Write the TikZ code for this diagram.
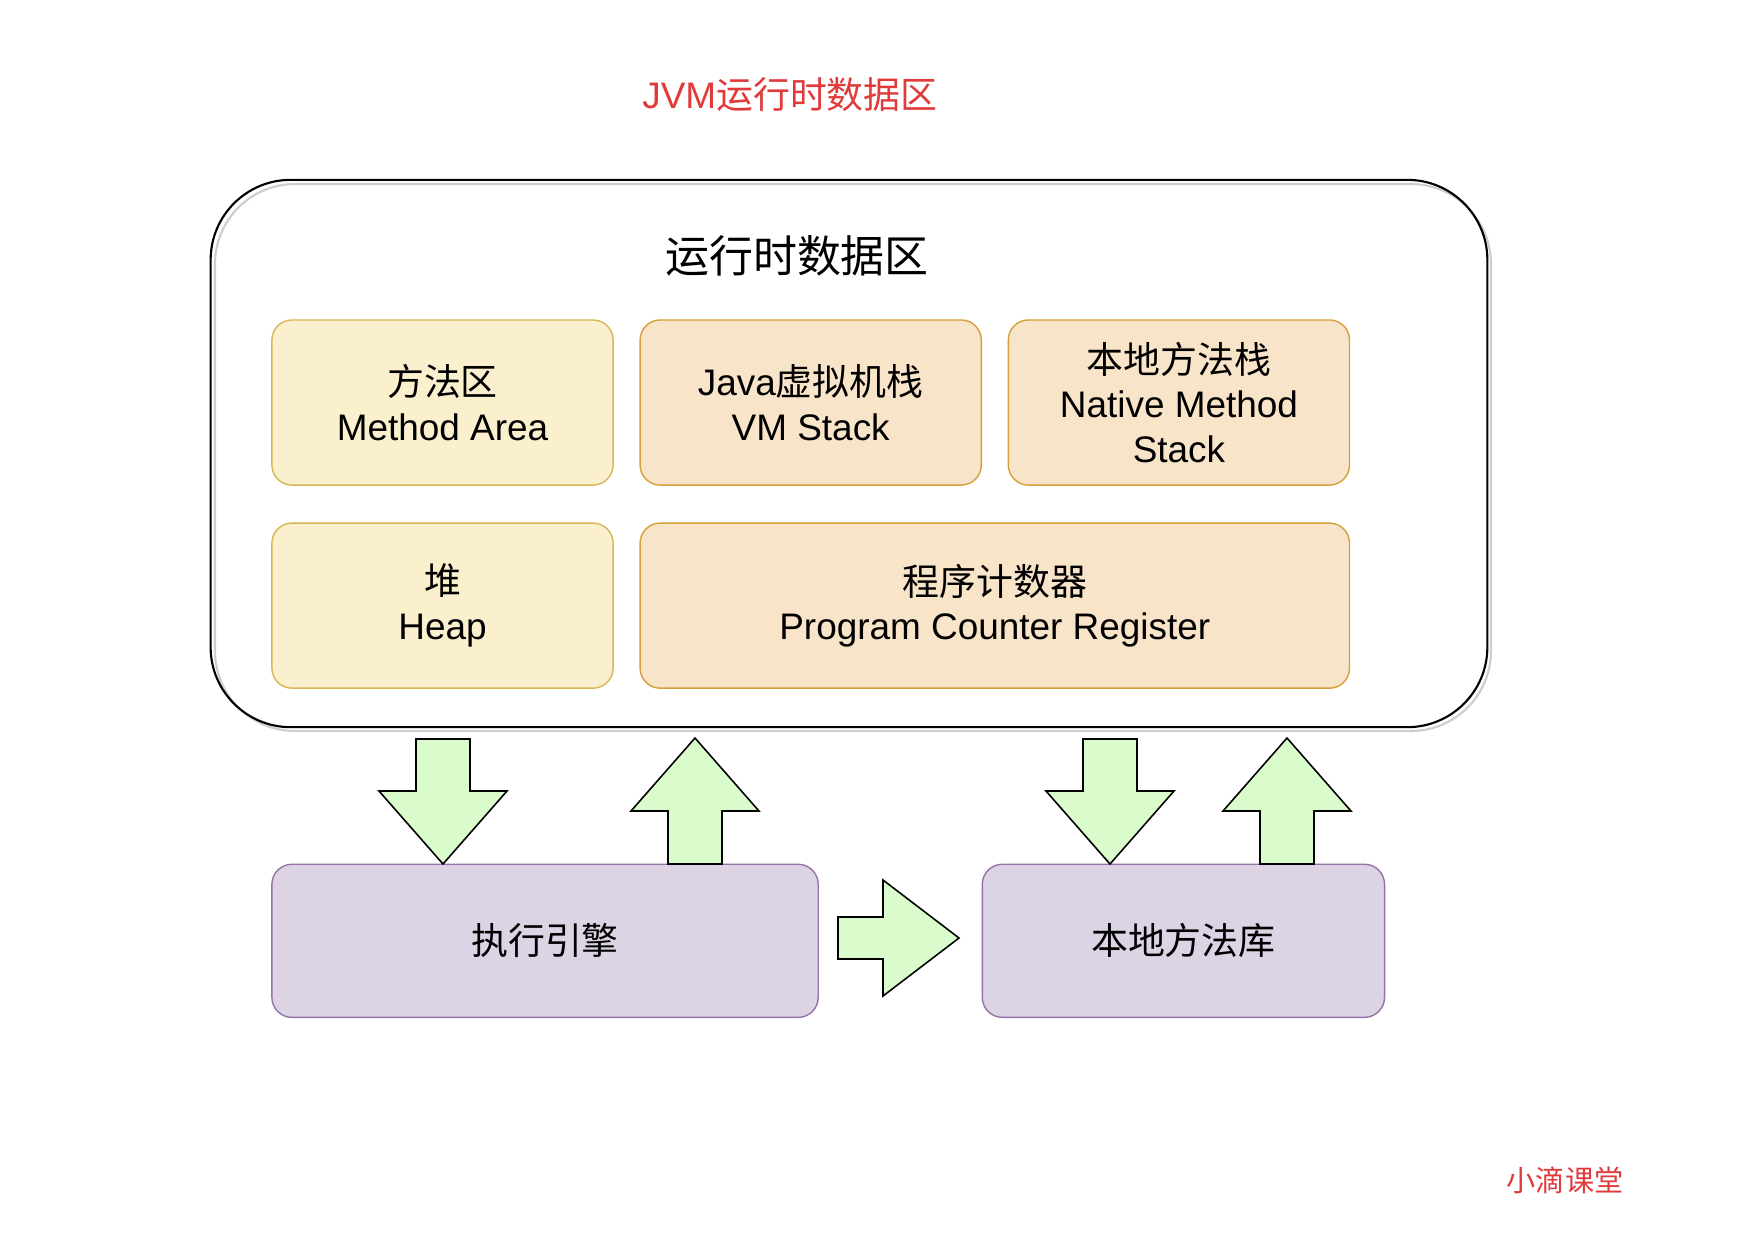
\documentclass[tikz,border=0pt]{standalone}
\usepackage{fontspec}
\setmainfont{Liberation Sans}
\newfontfamily\cjk{Noto Sans CJK SC}
\usepackage{tikz}
\usetikzlibrary{positioning}
\usepackage{xcolor}
\definecolor{titlered}{HTML}{E03A3A}
\definecolor{boxyellow}{HTML}{FAF0CD}
\definecolor{lineyellow}{HTML}{D6B656}
\definecolor{boxorange}{HTML}{F8E4C8}
\definecolor{lineorange}{HTML}{D5A03A}
\definecolor{boxpurple}{HTML}{DCD3E5}
\definecolor{linepurple}{HTML}{9673A6}
\definecolor{arrowgreen}{HTML}{DAFCCC}
\definecolor{shadowgray}{HTML}{CDCDCD}

\begin{document}
\begin{tikzpicture}[
x = 0.01cm, y = -0.01cm,
every node/.style = {align = center, inner sep = 0pt, outer sep = 0pt, font = \fontsize{10.5}{12.7}\selectfont},
  area/.style = {draw, rounded corners = 0.2cm, line width = 0.4pt, minimum height = 1.65cm},
  yellowbox/.style = {area, fill = boxyellow, draw = lineyellow, minimum width = 3.41cm},
  orangebox/.style = {area, fill = boxorange, draw = lineorange, minimum width = 3.41cm},
  purplebox/.style = {area, fill = boxpurple, draw = linepurple, minimum height = 1.53cm},
  bigarrow/.style = {draw = black, fill = arrowgreen, line width = 0.45pt, line join = miter}
]
\useasboundingbox (0,0) rectangle (1753,1241);

\node[text = titlered] (title) at (790,95) {JVM{\cjk 运行时数据区}};

% runtime data area
\draw[shadowgray, line width = 0.6pt, rounded corners = 0.8cm] (215,184) rectangle (1491,731);
\node[draw, line width = 0.6pt, rounded corners = 0.8cm, minimum width = 12.76cm, minimum height = 5.47cm] (runtime) at (849,453.5) {};
\node[font = \fontsize{12.5}{15}\selectfont] (header) at (797,256) {\cjk 运行时数据区};

\node[yellowbox] (method) at (442.5,402.5) {{\cjk 方法区}\\Method Area};
\node[orangebox, right = 0.27cm of method] (vmstack) {Java{\cjk 虚拟机栈}\\VM Stack};
\node[orangebox, right = 0.27cm of vmstack] (nativestack) {{\cjk 本地方法栈}\\Native Method\\Stack};
\node[yellowbox, below = 0.38cm of method] (heap) {{\cjk 堆}\\Heap};
\node[orangebox, right = 0.27cm of heap, minimum width = 7.09cm] (counter) {{\cjk 程序计数器}\\Program Counter Register};

% engine and native library
\node[purplebox, minimum width = 5.46cm, below right = 1.76cm and 0cm of heap.south west] (engine) {\cjk 执行引擎};
\node[purplebox, minimum width = 4.02cm, right = 1.64cm of engine] (library) {\cjk 本地方法库};

\draw[bigarrow] (443,864) -- ++(-64,-73) -- ++(37,0) -- ++(0,-52) -- ++(54,0) -- ++(0,52) -- ++(37,0) -- cycle;
\draw[bigarrow] (695,738) -- ++(-64,73) -- ++(37,0) -- ++(0,53) -- ++(54,0) -- ++(0,-53) -- ++(37,0) -- cycle;
\draw[bigarrow] (1110,864) -- ++(-64,-73) -- ++(37,0) -- ++(0,-52) -- ++(54,0) -- ++(0,52) -- ++(37,0) -- cycle;
\draw[bigarrow] (1287,738) -- ++(-64,73) -- ++(37,0) -- ++(0,53) -- ++(54,0) -- ++(0,-53) -- ++(37,0) -- cycle;
\draw[bigarrow] (959,938) -- ++(-76,-58) -- ++(0,37) -- ++(-45,0) -- ++(0,42) -- ++(45,0) -- ++(0,37) -- cycle;

\node[text = titlered, font = \fontsize{8.3}{10}\selectfont] (mark) at (1565,1180) {\cjk 小滴课堂};
\end{tikzpicture}
\end{document}
